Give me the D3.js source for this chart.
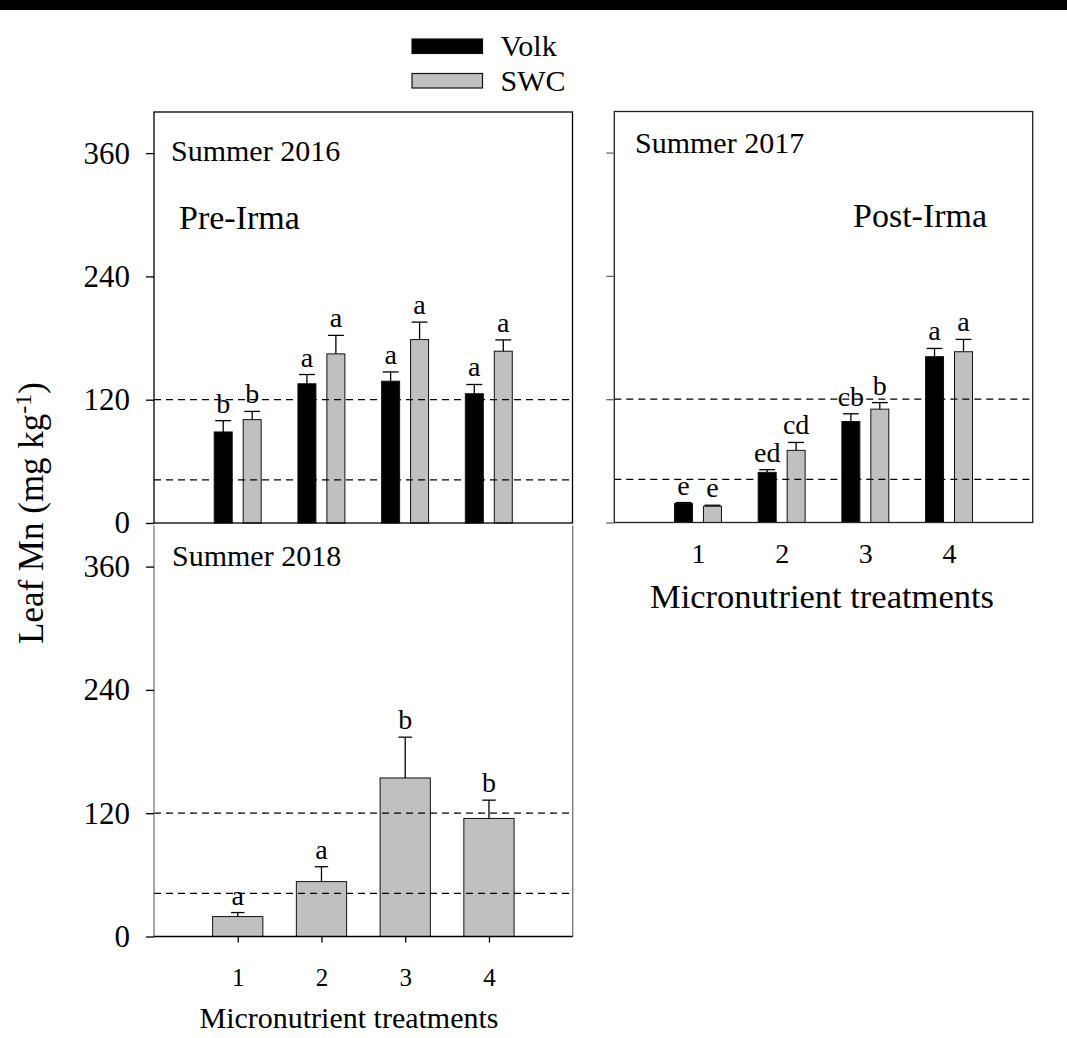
<!DOCTYPE html>
<html>
<head>
<meta charset="utf-8">
<script src="https://cdn.jsdelivr.net/npm/d3@7"></script>
<style>
  html, body { margin: 0; padding: 0; background: #fff; }
  svg { display: block; }
  svg text { font-family: "Liberation Serif", "Times New Roman", serif !important; fill: #000; }
</style>
</head>
<body>
<script>
// Leaf Mn concentration by micronutrient treatment, three summers
const treatments = ["1", "2", "3", "4"];
const yTicks = [0, 120, 240, 360];
const refLines = [42, 120];            // sufficiency range bounds, mg/kg

const volk2016 = [88.6, 135.5, 138.0, 125.8];
const volk2016Err = [11, 9, 9, 9];
const volk2016Letters = ["b", "a", "a", "a"];
const swc2016 = [100.6, 164.6, 178.5, 167.2];
const swc2016Err = [8, 18, 17, 11];
const swc2016Letters = ["b", "a", "a", "a"];

const volk2017 = [18.4, 48.8, 98.3, 161.4];
const volk2017Err = [1, 2.6, 7.5, 8];
const volk2017Letters = ["e", "ed", "cb", "a"];
const swc2017 = [15.8, 70.2, 110.3, 166.2];
const swc2017Err = [1, 7.7, 6.4, 12];
const swc2017Letters = ["e", "cd", "b", "a"];

const swc2018 = [19.4, 53.4, 154.3, 114.9];
const swc2018Err = [3.9, 14.5, 39.7, 17.8];
const swc2018Letters = ["a", "a", "b", "b"];

const seriesNames = ["Volk", "SWC"];
const seriesFill = { Volk: "#000000", SWC: "#c0c0c0" };

const W = 1067, H = 1038;
const svg = d3.select("body").append("svg").attr("width", W).attr("height", H);
svg.append("rect").attr("width", W).attr("height", H).attr("fill", "#fff");
svg.append("rect").attr("x", 0).attr("y", 0).attr("width", W).attr("height", 10).attr("fill", "#000");

function series(name, values, errs, letters) {
  return { name, rows: values.map((v, i) => ({ cat: i + 1, v, e: errs[i], l: letters[i] })) };
}

function drawPanel(o) {
  const x = d3.scaleLinear().domain([0, 5]).range([o.x0, o.x1]);
  const y = d3.scaleLinear().domain([0, 400]).range([o.y0, o.y0 - 411]);
  const g = svg.append("g");

  // bars with upward error bars and significance letters
  const n = o.series.length;
  const bw = n === 1 ? 0.6 : 0.215;
  const off = n === 1 ? [0] : [-0.173, 0.173];
  const capHalf = n === 1 ? 0.08 : 0.095;
  o.series.forEach((s, si) => {
    const sg = g.append("g");
    s.rows.forEach(d => {
      const cx = d.cat + off[si];
      sg.append("rect")
        .attr("x", x(cx - bw / 2)).attr("width", x(cx + bw / 2) - x(cx - bw / 2))
        .attr("y", y(d.v)).attr("height", y(0) - y(d.v))
        .attr("fill", seriesFill[s.name]).attr("stroke", "#111").attr("stroke-width", 1);
      const top = y(d.v + d.e);
      sg.append("line").attr("x1", x(cx)).attr("x2", x(cx)).attr("y1", y(d.v)).attr("y2", top)
        .attr("stroke", "#000").attr("stroke-width", 1.3);
      sg.append("line").attr("x1", x(cx - capHalf)).attr("x2", x(cx + capHalf)).attr("y1", top).attr("y2", top)
        .attr("stroke", "#000").attr("stroke-width", 1.3);
      sg.append("text").attr("x", x(cx)).attr("y", top - 8)
        .attr("text-anchor", "middle").attr("font-size", 28).text(d.l);
    });
  });

  // reference lines
  refLines.forEach(v => {
    g.append("line").attr("x1", o.x0).attr("x2", o.x1).attr("y1", y(v)).attr("y2", y(v))
      .attr("stroke", "#000").attr("stroke-width", 1.3).attr("stroke-dasharray", "7,5");
  });

  // frame
  const yt = y(400);
  if (o.openTop) {
    g.append("path").attr("d", `M${o.x0},${yt}V${o.y0}`).attr("stroke", o.sideColor).attr("stroke-width", 1.3).attr("fill", "none");
    g.append("path").attr("d", `M${o.x1},${yt}V${o.y0}`).attr("stroke", o.sideColor).attr("stroke-width", 1.3).attr("fill", "none");
    g.append("path").attr("d", `M${o.x0},${o.y0}H${o.x1}`).attr("stroke", "#000").attr("stroke-width", 1.3).attr("fill", "none");
  } else {
    g.append("rect").attr("x", o.x0).attr("y", yt).attr("width", o.x1 - o.x0).attr("height", o.y0 - yt)
      .attr("fill", "none").attr("stroke", o.frameColor).attr("stroke-width", 1.3);
  }

  // y axis
  const ya = g.append("g").attr("transform", `translate(${o.x0},0)`)
    .call(d3.axisLeft(y).tickValues(yTicks).tickSize(8).tickPadding(16)
      .tickFormat(o.yLabels ? d3.format("d") : () => ""));
  ya.select(".domain").remove();
  ya.selectAll(".tick line").attr("stroke", o.tickColor).attr("stroke-width", 1.3);
  ya.selectAll(".tick text").attr("font-size", 31).attr("fill", "#000");

  // x axis
  if (o.xLabels) {
    const xa = g.append("g").attr("transform", `translate(0,${o.y0})`)
      .call(d3.axisBottom(x).tickValues([1, 2, 3, 4]).tickSize(o.xTick).tickPadding(o.xPad)
        .tickFormat(d => treatments[d - 1]));
    xa.select(".domain").remove();
    xa.selectAll(".tick line").attr("stroke", "#000").attr("stroke-width", 1.3);
    xa.selectAll(".tick text").attr("font-size", o.xFont).attr("fill", "#000");
    g.append("text").attr("x", o.titleX).attr("y", o.titleY).attr("text-anchor", "middle")
      .attr("font-size", o.titleFont).text("Micronutrient treatments");
  }

  g.append("text").attr("x", o.labelX).attr("y", o.labelY).attr("font-size", 30).text(o.label);
  if (o.event) {
    g.append("text").attr("x", o.eventX).attr("y", o.eventY).attr("font-size", 34).text(o.event);
  }
}

drawPanel({
  x0: 154, x1: 572.5, y0: 523,
  series: [series("Volk", volk2016, volk2016Err, volk2016Letters), series("SWC", swc2016, swc2016Err, swc2016Letters)],
  frameColor: "#000", tickColor: "#000", yLabels: true, xLabels: false,
  label: "Summer 2016", labelX: 171, labelY: 161,
  event: "Pre-Irma", eventX: 179, eventY: 229
});

drawPanel({
  x0: 614.3, x1: 1032.7, y0: 522.5,
  series: [series("Volk", volk2017, volk2017Err, volk2017Letters), series("SWC", swc2017, swc2017Err, swc2017Letters)],
  frameColor: "#222", tickColor: "#666", yLabels: false, xLabels: true,
  xTick: 0, xPad: 21, xFont: 28, titleX: 822, titleY: 608, titleFont: 34.5,
  label: "Summer 2017", labelX: 635, labelY: 153,
  event: "Post-Irma", eventX: 853, eventY: 227
});

drawPanel({
  x0: 154, x1: 572.7, y0: 936.5,
  series: [series("SWC", swc2018, swc2018Err, swc2018Letters)],
  openTop: true, sideColor: "#777", tickColor: "#000", yLabels: true, xLabels: true,
  xTick: 6, xPad: 26, xFont: 25, titleX: 349, titleY: 1028, titleFont: 30,
  label: "Summer 2018", labelX: 172, labelY: 566
});

// shared y-axis title
const yt = svg.append("text").attr("transform", "translate(43,513) rotate(-90)")
  .attr("text-anchor", "middle").attr("font-size", 35);
yt.append("tspan").text("Leaf Mn (mg kg");
yt.append("tspan").attr("dy", -12).attr("font-size", 24).text("-1");
yt.append("tspan").attr("dy", 12).text(")");

// legend
const legend = svg.append("g");
seriesNames.forEach((name, i) => {
  const ly = 39 + i * 34.5;
  legend.append("rect").attr("x", 412).attr("y", ly).attr("width", 70.5).attr("height", 14.5)
    .attr("fill", seriesFill[name]).attr("stroke", "#111").attr("stroke-width", 1.2);
  legend.append("text").attr("x", 500.5).attr("y", ly + 17).attr("font-size", 30).text(name);
});
</script>
</body>
</html>
